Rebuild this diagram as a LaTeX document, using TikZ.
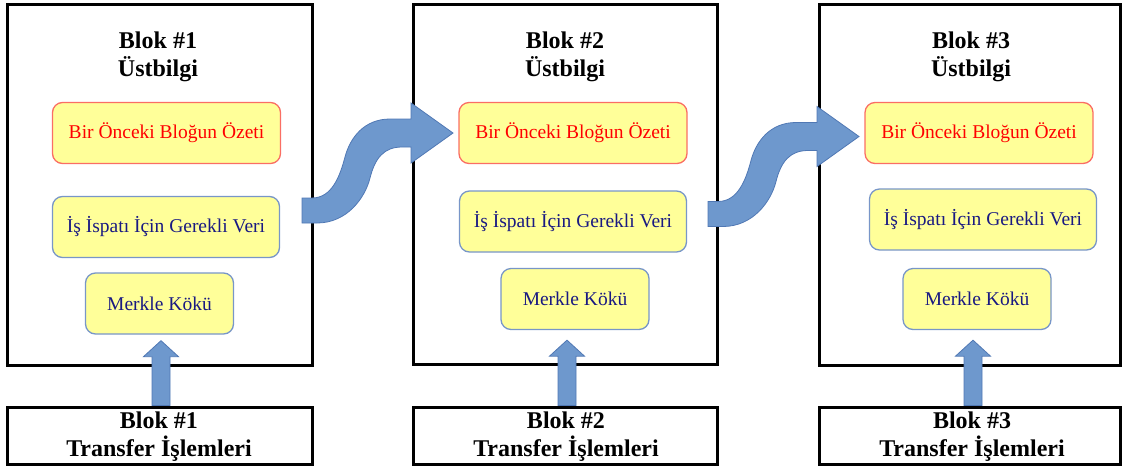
\documentclass[tikz,border=0pt]{standalone}
\usepackage{fontspec}
\setmainfont{Liberation Serif}
\usetikzlibrary{calc}

\definecolor{boxyellow}{RGB}{255,255,153}
\definecolor{softred}{RGB}{250,110,100}
\definecolor{hashred}{RGB}{255,0,0}
\definecolor{softblue}{RGB}{120,150,200}
\definecolor{navytext}{RGB}{25,25,130}
\definecolor{arrowblue}{RGB}{110,152,205}
\definecolor{arrowedge}{RGB}{80,120,180}

\tikzset{
  blockframe/.style={draw=black, line width=3pt, inner sep=0pt},
  headtext/.style={font=\fontsize{24}{28}\selectfont\bfseries, align=center, inner sep=0pt},
  fieldbox/.style={rounded corners=10pt, fill=boxyellow, line width=1.3pt,
    font=\fontsize{19.5}{22}\selectfont, inner sep=0pt, minimum height=61pt},
  hashbox/.style={fieldbox, draw=softred, text=hashred, minimum width=228pt},
  powbox/.style={fieldbox, draw=softblue, text=navytext, minimum width=227pt},
  rootbox/.style={fieldbox, draw=softblue, text=navytext, minimum width=148pt},
  flow/.style={fill=arrowblue, draw=arrowedge, line width=0.8pt},
  swoosh/.pic={
    \filldraw[flow] (0,0) -- (10,0)
      .. controls (30,0) and (38,-22) .. (43,-41)
      .. controls (48,-60) and (62,-79) .. (88,-79)
      -- (109,-79) -- (109,-95) -- (151,-65) -- (109,-35) -- (109,-51) -- (100,-51)
      .. controls (82,-51) and (73,-40) .. (68,-20)
      .. controls (63,0) and (45,25) .. (15,25) -- (0,25) -- cycle;
  }
}

% thick upward block arrow from #1 (foot) to #2 (tip)
\newcommand\liftarrow[2]{%
  \filldraw[flow] ($(#1)+(-9,0)$) -- ($(#2)+(-9,16)$) -- ($(#2)+(-17.5,16)$)
    -- (#2) -- ($(#2)+(17.5,16)$) -- ($(#2)+(9,16)$) -- ($(#1)+(9,0)$) -- cycle;}

\begin{document}
\begin{tikzpicture}[x=1pt, y=-1pt]
\useasboundingbox (0,0) rectangle (1123,469);

% header frames
\node[blockframe, minimum width=305pt, minimum height=361pt] (b1) at (159.5,184.5) {};
\node[blockframe, minimum width=304pt, minimum height=360pt] (b2) at (565,184) {};
\node[blockframe, minimum width=301pt, minimum height=361pt] (b3) at (969.5,184.5) {};

% transaction frames
\node[blockframe, minimum width=305pt, minimum height=57pt] (t1) at (159.5,435.5) {};
\node[blockframe, minimum width=304pt, minimum height=57pt] (t2) at (565,435.5) {};
\node[blockframe, minimum width=301pt, minimum height=57pt] (t3) at (969.5,435.5) {};

% header titles
\node[headtext] (h1) at (158,56.4) {Blok \#1\\Üstbilgi};
\node[headtext] (h2) at (565,56.4) {Blok \#2\\Üstbilgi};
\node[headtext] (h3) at (971,56.4) {Blok \#3\\Üstbilgi};

% transaction titles
\node[headtext] (l1) at (159,437) {Blok \#1\\Transfer İşlemleri};
\node[headtext] (l2) at (566,437) {Blok \#2\\Transfer İşlemleri};
\node[headtext] (l3) at (972,437) {Blok \#3\\Transfer İşlemleri};

% header fields
\node[hashbox] (p1) at (166.5,133) {Bir Önceki Bloğun Özeti};
\node[powbox]  (w1) at (166,227) {İş İspatı İçin Gerekli Veri};
\node[rootbox] (m1) at (159.5,303.5) {Merkle Kökü};

\node[hashbox] (p2) at (573,133) {Bir Önceki Bloğun Özeti};
\node[powbox]  (w2) at (573,221.5) {İş İspatı İçin Gerekli Veri};
\node[rootbox] (m2) at (575,299) {Merkle Kökü};

\node[hashbox] (p3) at (979,133) {Bir Önceki Bloğun Özeti};
\node[powbox]  (w3) at (983,219.5) {İş İspatı İçin Gerekli Veri};
\node[rootbox] (m3) at (977,299) {Merkle Kökü};

% links between consecutive blocks
\pic at ($(b1.east)+(-11.5,13.5)$) {swoosh};
\pic at ($(b2.east)+(-10.5,17.5)$) {swoosh};

% transactions feed the Merkle root
\coordinate (u1t) at ($(m1.south)+(1.5,6)$);
\coordinate (u1b) at (t1.north -| u1t);
\liftarrow{u1b}{u1t}
\coordinate (u2t) at ($(m2.south)+(-8,10)$);
\coordinate (u2b) at (t2.north -| u2t);
\liftarrow{u2b}{u2t}
\coordinate (u3t) at ($(m3.south)+(-4,10)$);
\coordinate (u3b) at (t3.north -| u3t);
\liftarrow{u3b}{u3t}
\end{tikzpicture}
\end{document}
